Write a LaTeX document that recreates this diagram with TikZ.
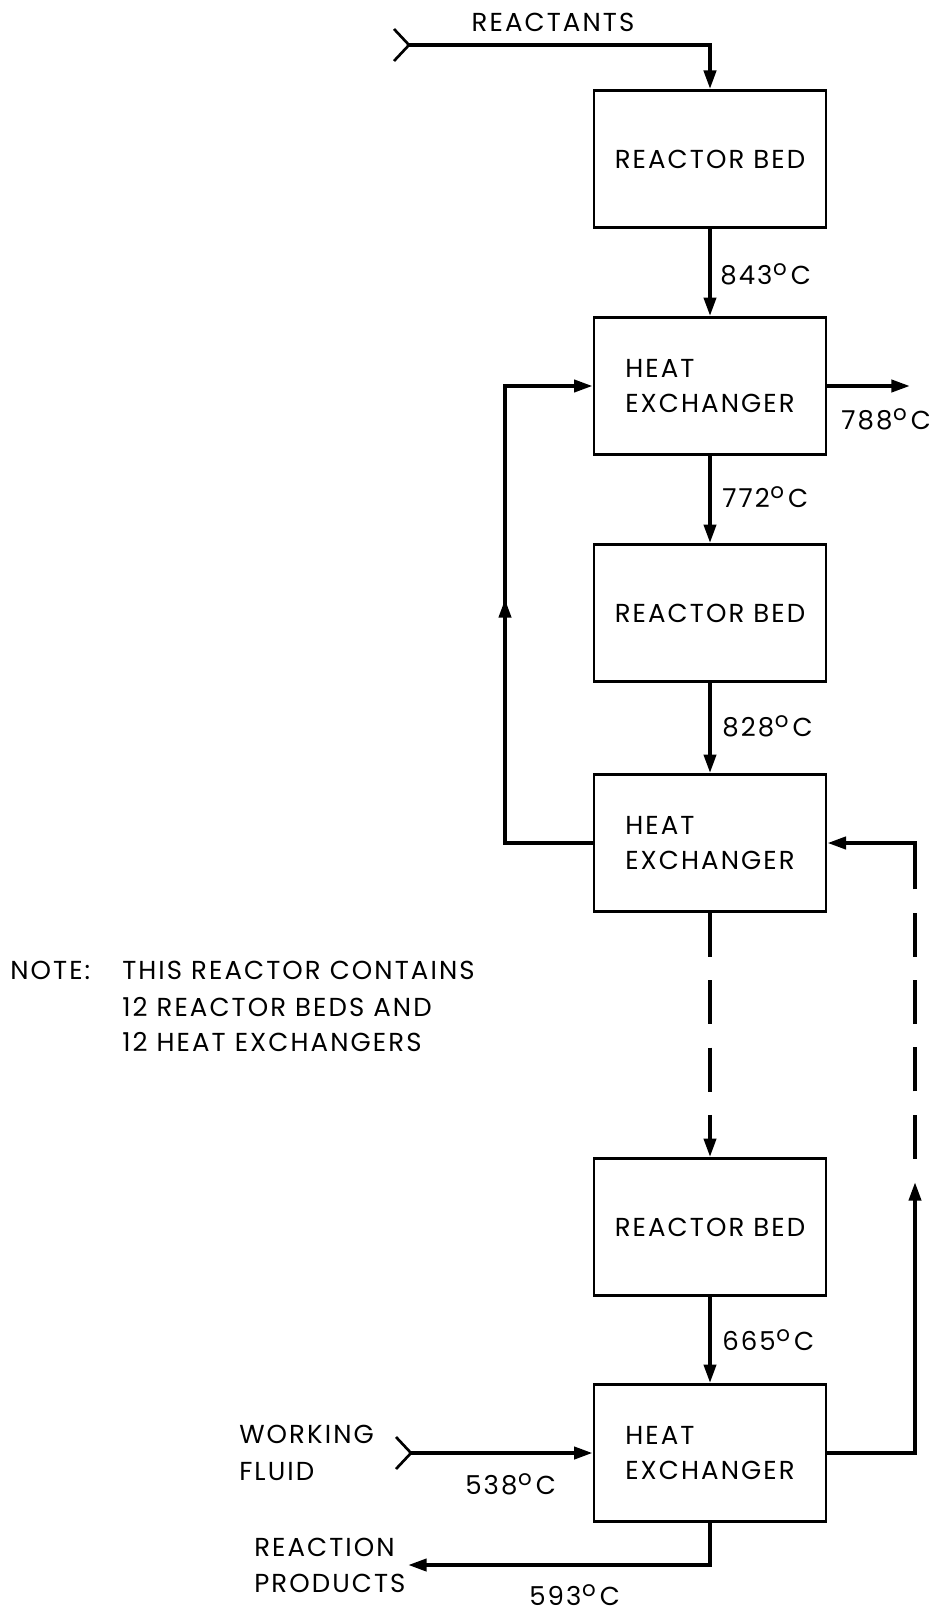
\documentclass[tikz,border=0pt]{standalone}
\usepackage{fontspec}
\setmainfont{Poppins}[LetterSpace=8]
\usetikzlibrary{arrows.meta}
\newcommand\dfont{\fontsize{19.5}{26}\selectfont}
\newcommand\dgc{\hspace{0.5pt}\raisebox{6.4pt}{\fontsize{16}{16}\selectfont o}\hspace{3pt}C}
\begin{document}
\begin{tikzpicture}[x=0.75pt,y=-0.75pt,
  every node/.style={font=\dfont, inner sep=0pt},
  box/.style={draw, line width=2pt, minimum width=174pt, minimum height=102.75pt, align=left},
  flow/.style={line width=3pt},
  arr/.style={flow, -{Triangle[length=14pt,width=9pt]}},
  dashflow/.style={flow, dash pattern=on 33pt off 17.5pt},
  lbl/.style={anchor=base west},
  txt/.style={anchor=west}]
\useasboundingbox (0,0) rectangle (928,1612);
\fill[white] (0,0) rectangle (928,1612);

% boxes
\node[box] (rb1) at (710,159) {REACTOR BED};
\node[box] (hx1) at (710,386) {HEAT\\EXCHANGER};
\node[box] (rb2) at (710,613) {REACTOR BED};
\node[box] (hx2) at (710,843) {HEAT\\EXCHANGER};
\node[box] (rb3) at (710,1227) {REACTOR BED};
\node[box] (hx3) at (710,1453) {HEAT\\EXCHANGER};

% reactants inlet
\node (treact) at (553,22) {REACTANTS};
\coordinate (rin) at (409,45);
\coordinate (rinA) at (394,29);
\coordinate (rinB) at (394,61);
\draw[flow, line width=2pt] (rinA) -- (rin) -- (rinB);
\draw[arr] (rin) -| (rb1.north);

% main chain
\draw[arr] (rb1) -- (hx1);
\draw[arr] (hx1) -- (rb2);
\draw[arr] (rb2) -- (hx2);
\draw[arr] (rb3) -- (hx3);
\draw[dashflow, -{Triangle[length=14pt,width=9pt]}] (hx2) -- (rb3);

\node[lbl] (t843) at (720,284) {843\dgc};
\node[lbl] (t772) at (722,507) {772\dgc};
\node[lbl] (t828) at (722,736) {828\dgc};
\node[lbl] (t665) at (722,1350) {665\dgc};

% hx1 outlet
\coordinate (hx1out) at (910,386);
\draw[arr] (hx1.east) -- (hx1out);
\node[lbl] (t788) at (841,429) {788\dgc};

% left loop
\coordinate (lx) at (505,0);
\draw[arr] (hx2.west) -| (lx |- hx1.west) -- (hx1.west);
\coordinate (la) at (505,640);
\coordinate (lb) at (505,599);
\draw[arr] (la) -- (lb);

% right loop
\coordinate (rx) at (915,1182);
\coordinate (ry) at (915,887);
\draw[arr] (hx3.east) -| (rx);
\draw[dashflow, dash phase=33pt] (rx) -- (ry);
\draw[arr] (ry) |- (hx2.east);

% working fluid
\node[txt] (twork) at (239,1434) {WORKING};
\node[txt] (tfluid) at (239,1472) {FLUID};
\coordinate (wf) at (411,1453);
\coordinate (wfA) at (396,1437);
\coordinate (wfB) at (396,1469);
\draw[flow, line width=2pt] (wfA) -- (wf) -- (wfB);
\draw[arr] (wf) -- (hx3.west);
\node[lbl] (t538) at (465,1494) {538\dgc};

% reaction products
\coordinate (rp) at (408,1565);
\draw[arr] (hx3.south) |- (rp);
\node[txt] (treac) at (254,1547) {REACTION};
\node[txt] (tprod) at (254,1583) {PRODUCTS};
\node[lbl] (t593) at (529,1605) {593\dgc};

% note
\node[txt] (tnote) at (10,970) {NOTE:};
\node[txt] (tn1) at (122,970) {THIS REACTOR CONTAINS};
\node[txt] (tn2) at (122,1007) {12 REACTOR BEDS AND};
\node[txt] (tn3) at (122,1042) {12 HEAT EXCHANGERS};
\end{tikzpicture}
\end{document}
